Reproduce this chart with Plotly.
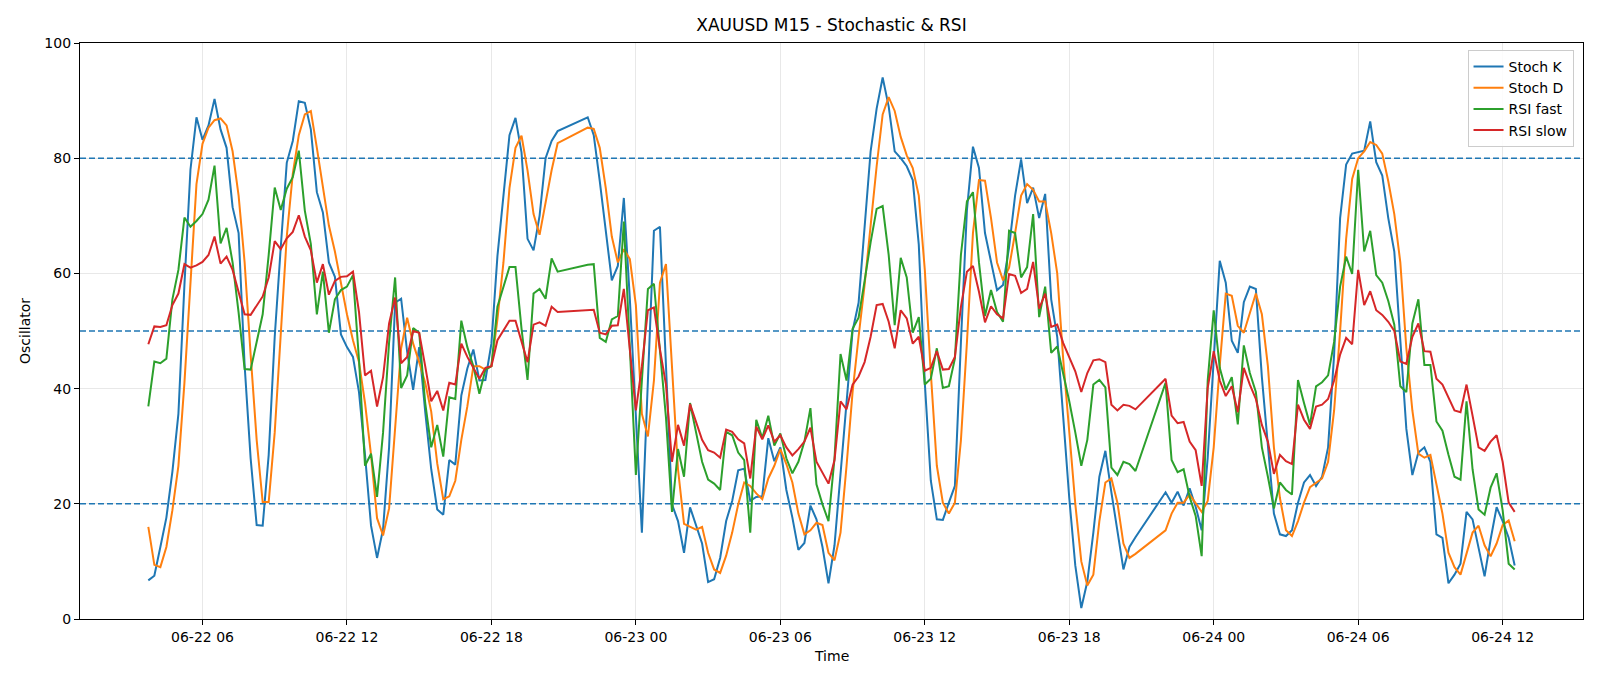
import pandas as pd
import plotly.graph_objects as go

# ---- time axis (M15 bars, market break 21:00-21:45 each day) ----
seg1_t = pd.date_range("2022-06-22 03:45", "2022-06-22 20:45", freq="15min")
seg2_t = pd.date_range("2022-06-22 22:00", "2022-06-23 20:45", freq="15min")
seg3_t = pd.date_range("2022-06-23 22:00", "2022-06-24 12:30", freq="15min")
times = list(seg1_t) + list(seg2_t) + list(seg3_t)

# ---- Stoch K ----
stoch_k_1 = [6.7, 7.5, 12.5, 17.6, 25.6, 35.6, 58, 78, 87.1, 83.2,
             85.7, 90.3, 85, 81.8, 71.5, 67, 44, 27.9, 16.3, 16.2,
             28.5, 49, 64.5, 79.2, 83, 89.9, 89.6, 85, 74.1, 70.6,
             61.9, 59.4, 49.4, 47.2, 45.5, 39.4, 28.5, 16.2, 10.6, 15.6,
             29.8, 54.9, 55.6, 46.4, 39.8, 47.2, 36, 26, 19, 18.1,
             27.6, 26.8, 38.8, 43.5, 46.8, 41.4, 41.5, 47.8, 63, 73.5,
             84, 87, 81, 66, 64, 70, 80, 83, 84.7]
stoch_k_2 = [87.1, 84, 76, 67.7, 58.8, 61.3, 73.1, 55.5, 36.2, 15,
             41.4, 67.4, 68.1, 44, 19.9, 17, 11.5, 19.4, 16.3, 13.1,
             6.4, 6.9, 10.6, 17, 20.5, 25.8, 26.1, 20.5, 21.2, 21.3,
             31.4, 27.4, 29.8, 22.4, 17.6, 12, 13.2, 19.7, 17.3, 12.5,
             6.2, 12.8, 25.2, 37.5, 50, 54.9, 68.3, 81.2, 88.6, 94,
             89, 81.2, 80, 78.6, 76.2, 65, 41, 24, 17.3, 17.2,
             20.2, 23.1, 48, 71, 82, 78.3, 67, 61.9, 57.1, 58,
             64.5, 73.5, 79.8, 72.2, 74.9, 69.6, 73.8, 55.5, 49, 35,
             21, 9.3, 1.9, 6.5, 15, 24.7, 29.2, 22, 15, 8.6,
             12.5, 14.2]
stoch_k_3 = [22, 20.2, 22.1, 19.7, 22.7, 19.5, 15.4, 28, 45, 62.2,
             58.4, 48.3, 46.2, 55, 57.7, 57.3, 42, 29.8, 18.3, 14.7,
             14.4, 15.4, 20.2, 23.7, 25, 23.1, 24.7, 29.8, 45.9, 69.6,
             78.9, 80.8, 81, 81.3, 86.4, 79.3, 77, 69.6, 63.8, 49,
             33, 25, 28.9, 29.8, 27.3, 14.7, 14.1, 6.2, 7.7, 9.6,
             18.6, 17.3, 12.5, 7.4, 13.8, 19.4, 17, 14.1, 9.3]

# ---- Stoch D ----
stoch_d_1 = [16, 9.4, 9, 12.5, 18.9, 26.6, 41, 59, 75.5, 82.5,
             85.3, 86.6, 86.9, 85.7, 81.2, 73.5, 61.9, 45.9, 31.1, 20.3,
             20.3, 32.4, 49, 66.4, 77.3, 84, 87.6, 88.2, 81.8, 74.8,
             68.3, 63.8, 58, 52.9, 48.4, 44.6, 37.5, 28.5, 17.5, 14.5,
             19.2, 33.7, 47, 52.3, 47.8, 44.6, 41, 36, 27, 20.8,
             21.3, 24, 31.1, 36.9, 43.9, 43.9, 43.3, 43.9, 52, 61.9,
             74.8, 81.8, 83.9, 77.9, 70.3, 66.7, 72.2, 77.9, 82.6]
stoch_d_2 = [85.3, 85.1, 81.8, 74.8, 66.4, 61.9, 64.2, 62.5, 54.5, 35.6,
             31.7, 41.4, 58.4, 61.6, 43, 26, 16.5, 16, 15.5, 16,
             11.5, 8.6, 8, 11, 15, 19.9, 23.7, 23.1, 21.8, 20.8,
             24.4, 26.6, 29.5, 26.9, 23.7, 18.3, 14.7, 15.4, 16.7, 16.3,
             11.5, 10.2, 15, 26.6, 39.4, 49, 58, 68.3, 78.6, 87.6,
             90.6, 88.2, 83.7, 80.5, 78.3, 73.5, 60.6, 42.7, 26.6, 20.2,
             18.3, 20.2, 31, 48, 67, 76.2, 76.1, 69.6, 61.9, 58.8,
             61, 67, 73.5, 75.5, 74.5, 72.5, 72.5, 67, 60, 45,
             33, 20, 10, 5.8, 7.7, 17, 23.7, 24.4, 20.2, 13.1,
             10.6, 11.3]
stoch_d_3 = [15.4, 18.3, 20.2, 20.2, 21.6, 20.2, 18.6, 20.5, 29.8, 44,
             56.5, 56.1, 50.9, 49.7, 52.9, 56.5, 52.9, 43.9, 29.8, 21,
             15.4, 14.4, 17, 20.2, 22.9, 23.7, 24.4, 27.3, 36.2, 50,
             66, 76.4, 80, 81.2, 82.8, 82.3, 80.8, 76, 70.3, 61.9,
             47, 36.2, 28.7, 28, 28.5, 23.4, 18.3, 11.5, 9, 7.7,
             11.5, 15, 16.2, 12.8, 10.9, 13.1, 16.3, 17.1, 13.5]

# ---- RSI fast ----
rsi_fast_1 = [36.9, 44.7, 44.4, 45.2, 55.5, 60.6, 69.7, 68.1, 69.1, 70.3,
              72.8, 78.7, 65.2, 67.9, 61.9, 53.2, 43.4, 43.3, 48.1, 52.9,
              63.2, 74.9, 71, 74.7, 76.7, 81.3, 70.9, 65.1, 52.9, 60.3,
              49.7, 55.5, 57.1, 57.7, 59.7, 45, 26.6, 28.7, 21.2, 32.4,
              48, 59.3, 40.1, 42.3, 50.5, 49.7, 37.5, 29.8, 33.7, 28.2,
              38.5, 38.2, 51.8, 47.2, 43.9, 39.1, 43.3, 43.9, 54.2, 57.7,
              61.1, 61.1, 50.4, 41.5, 56.5, 57.3, 55.6, 62.6, 60.3]
rsi_fast_2 = [61.5, 61.6, 48.8, 48.1, 52, 52.6, 69, 46.5, 25, 41.4,
              57.3, 58.2, 47, 35, 18.6, 29.5, 24.7, 37.5, 32.4, 27.3,
              24.2, 23.5, 22.4, 32.5, 31.9, 28.9, 27.6, 15, 34.6, 31.4,
              35.3, 30.1, 32.2, 27.9, 25.3, 27.3, 30.8, 36.6, 23.4, 19.9,
              17, 27.9, 46, 41.4, 50.4, 52.3, 58.7, 65.4, 71.2, 71.7,
              63.2, 51, 62.7, 59.3, 49.7, 52.4, 40.7, 41.7, 47, 40.1,
              40.4, 45.2, 63.2, 72.5, 74.1, 61.9, 52.6, 57.1, 53.3, 51.6,
              67.4, 67, 59.3, 61.1, 70.3, 52.4, 57.7, 46.2, 47.3, 42.7,
              37.8, 32.4, 26.6, 31.1, 40.7, 41.5, 40.2, 26.3, 25, 27.3,
              26.9, 25.7]
rsi_fast_3 = [41, 27.6, 25.5, 26, 21.2, 17.9, 10.9, 41.4, 53.6, 43.6,
              39.8, 42, 33.8, 47.5, 42.7, 39.4, 29.8, 24.7, 19.2, 23.7,
              22.4, 21.6, 41.5, 37.5, 33.7, 40.4, 41.1, 42.3, 48.1, 57.7,
              62.9, 59.9, 78, 63.8, 67.4, 59.7, 58.4, 55.2, 51.1, 40.4,
              39.4, 51.3, 55.5, 44.1, 44.1, 34.3, 32.7, 28.5, 24.7, 24.2,
              37.8, 26, 19, 18.1, 22.8, 25.3, 18.9, 9.6, 8.6]

# ---- RSI slow ----
rsi_slow_1 = [47.7, 50.8, 50.7, 51, 54.5, 56.5, 61.6, 61, 61.4, 62,
              63.2, 66.4, 61.7, 62.9, 60.6, 56.8, 52.9, 52.8, 54.3, 56,
              59.3, 65.6, 64.2, 66.1, 67.2, 70.1, 66.4, 64, 58.4, 61.6,
              56.3, 58.7, 59.4, 59.5, 60.3, 53.3, 42.3, 43.1, 36.9, 42,
              51.3, 55.8, 44.4, 45.5, 50, 49.7, 43.9, 37.8, 39.6, 36.2,
              41, 40.7, 47.8, 45.5, 43.6, 41.7, 43.6, 43.9, 48.4, 50,
              51.8, 51.8, 48.4, 44.6, 51.1, 51.5, 50.9, 54.2, 53.3]
rsi_slow_2 = [53.7, 53.7, 49.7, 49.4, 50.9, 51, 57.3, 47.2, 36.2, 43.9,
              53.6, 54.1, 46.8, 40.7, 27.3, 33.7, 30.1, 37.3, 34.3, 31.1,
              29.3, 28.9, 28, 32.9, 32.5, 31.2, 30.5, 24.4, 33.4, 31.2,
              33.6, 30.8, 31.9, 29.8, 28.4, 29.5, 30.8, 33.2, 27.3, 25.3,
              23.5, 27.6, 37.8, 36.4, 40.7, 42.1, 44.6, 49, 54.5, 54.7,
              51.6, 47, 53.6, 52.2, 47.8, 49, 43.1, 43.6, 46.5, 43.3,
              43.4, 45.5, 54.2, 60.3, 61.3, 56.8, 51.5, 54.3, 52.9, 52.2,
              59.9, 59.6, 56.6, 57.3, 62, 53.9, 56.5, 50.7, 51.1, 47.9,
              45.5, 43, 39.4, 42.7, 44.9, 45.1, 44.6, 37.2, 36.2, 37.2,
              37, 36.4]
rsi_slow_3 = [41.7, 35.3, 34, 34.2, 30.8, 29.3, 23.1, 40.1, 46.5, 41.4,
              38.7, 40.4, 35.9, 43.6, 40.7, 38.2, 33.7, 30.8, 25.2, 28.5,
              27.4, 26.9, 37.2, 34.6, 33, 36.9, 37.2, 38.2, 41.4, 45.9,
              48.8, 47.7, 60.6, 54.5, 56.9, 53.6, 52.8, 51.6, 50, 44.7,
              44.3, 49, 51.3, 46.5, 46.4, 41.7, 40.7, 38.3, 36.2, 35.9,
              40.7, 35.3, 29.8, 29.2, 30.8, 31.9, 27.3, 20.2, 18.6]

stoch_k = stoch_k_1 + stoch_k_2 + stoch_k_3
stoch_d = stoch_d_1 + stoch_d_2 + stoch_d_3
rsi_fast = rsi_fast_1 + rsi_fast_2 + rsi_fast_3
rsi_slow = rsi_slow_1 + rsi_slow_2 + rsi_slow_3
for s in (stoch_k, stoch_d, rsi_fast, rsi_slow):
    assert len(s) == len(times), (len(s), len(times))

levels = [20, 50, 80]
tick_times = pd.date_range("2022-06-22 06:00", "2022-06-24 12:00", freq="6h")
x_range = ["2022-06-22 00:54:45", "2022-06-24 15:20:15"]

series = [("Stoch K", stoch_k, "#1f77b4"),
          ("Stoch D", stoch_d, "#ff7f0e"),
          ("RSI fast", rsi_fast, "#2ca02c"),
          ("RSI slow", rsi_slow, "#d62728")]

FONT = "DejaVu Sans"
fig = go.Figure()

# reference levels (drawn as traces so they sit above the grid)
for lv in levels:
    fig.add_trace(go.Scatter(x=x_range, y=[lv, lv], mode="lines", showlegend=False,
                             hoverinfo="skip",
                             line=dict(color="#1f77b4", width=1.4, dash="6px,3px")))

for name, vals, color in series:
    fig.add_trace(go.Scatter(x=times, y=vals, mode="lines", name=name,
                             line=dict(color=color, width=2)))

axis_common = dict(showgrid=True, gridcolor="#e8e8e8", gridwidth=1,
                   showline=True, linecolor="black", linewidth=1.2, mirror=True,
                   ticks="outside", ticklen=5, tickcolor="black", tickwidth=1,
                   zeroline=False, tickfont=dict(family=FONT, size=14, color="black"))

fig.update_layout(
    width=1600, height=686,
    margin=dict(l=80, r=17, t=43, b=67, autoexpand=False),
    paper_bgcolor="white", plot_bgcolor="white",
    font=dict(family=FONT, size=14, color="black"),
    title=dict(text="XAUUSD M15 - Stochastic & RSI", x=0.5, xref="paper",
               y=1 - 25.5 / 686, yref="container", xanchor="center", yanchor="middle",
               font=dict(family=FONT, size=17, color="black")),
    xaxis=dict(type="date", range=x_range, tickvals=list(tick_times),
               tickformat="%m-%d %H", **axis_common),
    yaxis=dict(range=[0, 100], tickvals=[0, 20, 40, 60, 80, 100], **axis_common),
    legend=dict(x=0.9937, y=0.988, xanchor="right", yanchor="top",
                bgcolor="rgba(255,255,255,0.85)", bordercolor="#cccccc", borderwidth=1,
                font=dict(family=FONT, size=14, color="black")),
    showlegend=True,
)

fig.add_annotation(text="Time", xref="paper", yref="paper", x=0.5, y=0,
                   yshift=-37, showarrow=False, xanchor="center", yanchor="middle",
                   font=dict(family=FONT, size=14, color="black"))
fig.add_annotation(text="Oscillator", xref="paper", yref="paper", x=0, y=0.5,
                   xshift=-55, showarrow=False, textangle=-90,
                   xanchor="center", yanchor="middle",
                   font=dict(family=FONT, size=14, color="black"))

fig.write_html("out.html")
